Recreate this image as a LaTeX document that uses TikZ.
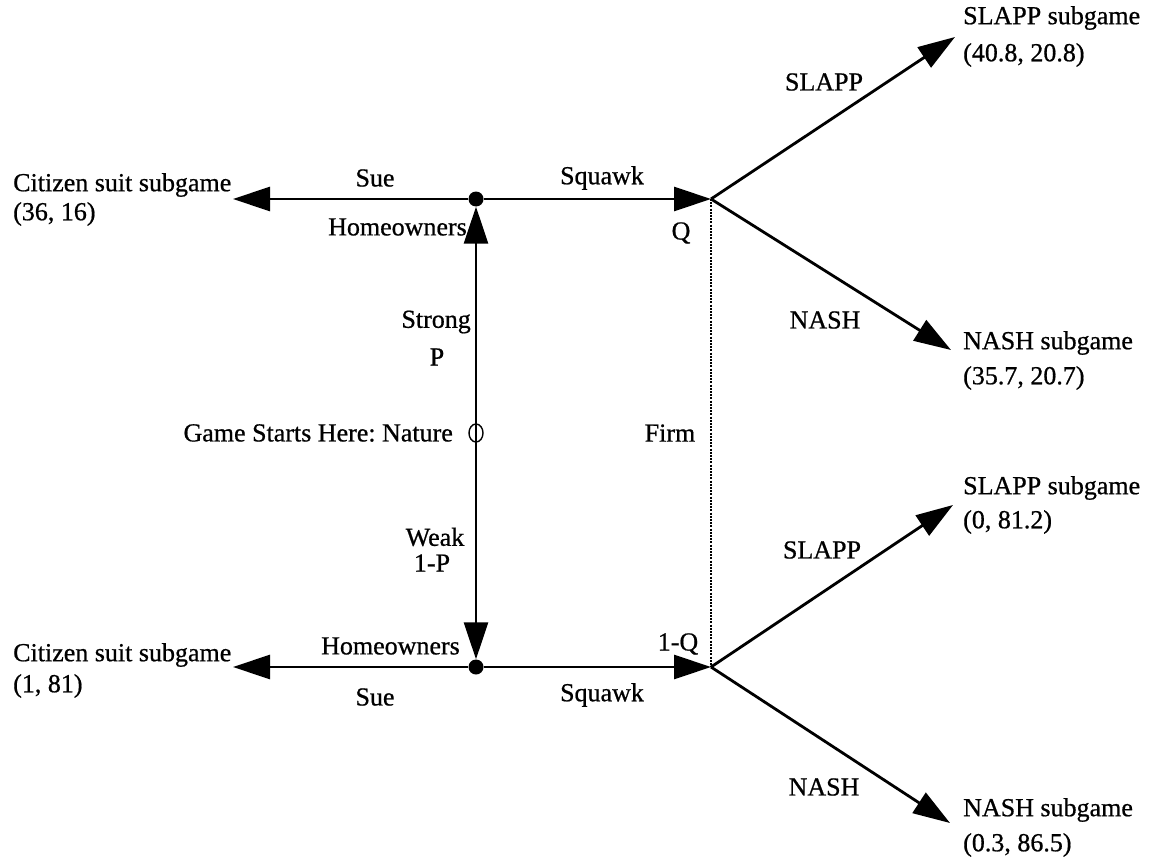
\documentclass[tikz,border=0pt]{standalone}
\usepackage{fontspec}
\setmainfont{Liberation Serif}[FakeBold=0.7]
\usetikzlibrary{arrows.meta,shapes.geometric}
\frenchspacing
\begin{document}
\begin{tikzpicture}[x=1pt,y=-1pt,
  lbl/.style={font=\fontsize{26}{30}\selectfont, inner sep=0pt},
  edge/.style={line width=2.8pt},
  arr/.style={edge, -{Triangle[length=37pt,width=24pt]}},
  hdot/.style={circle, fill=black, inner sep=0pt, minimum size=15pt},
  ndot/.style={ellipse, draw=black, line width=1.4pt, inner sep=0pt, minimum width=14pt, minimum height=18pt},
  info/.style={line width=1.7pt, dash pattern=on 2pt off 1.2pt}]
\useasboundingbox (0,0) rectangle (1151,864);
% decision nodes
\node[hdot] (h1) at (476,199) {};
\node[hdot] (h2) at (476,667) {};
\node[ndot] (nat) at (476,433) {};
\coordinate (q1) at (711,199);
\coordinate (q2) at (711,667);
\coordinate (c1) at (233,199);
\coordinate (c2) at (233,667);
\coordinate (t1) at (955,37);
\coordinate (t2) at (951,350);
\coordinate (t3) at (953,505);
\coordinate (t4) at (950,823);
% connectors
\draw[arr] (nat.center) -- (h1);
\draw[arr] (nat.center) -- (h2);
\draw[arr] (h1) -- (c1);
\draw[arr] (h1) -- (q1);
\draw[arr] (h2) -- (c2);
\draw[arr] (h2) -- (q2);
\draw[arr] (q1) -- (t1);
\draw[arr] (q1) -- (t2);
\draw[arr] (q2) -- (t3);
\draw[arr] (q2) -- (t4);
\draw[info] (q1) -- (q2);
% left payoffs
\node[lbl, anchor=west] (cs1) at (13,185) {Citizen suit subgame};
\node[lbl, anchor=west] (p1) at (13,214) {(36, 16)};
\node[lbl, anchor=west] (cs2) at (13,655) {Citizen suit subgame};
\node[lbl, anchor=west] (p2) at (13,686) {(1, 81)};
% edge labels
\node[lbl] (sue1) at (375,178) {Sue};
\node[lbl] (sq1) at (602,178) {Squawk};
\node[lbl, anchor=east] (ho1) at (467,227) {Homeowners};
\node[lbl] (ql) at (681,233) {Q};
\node[lbl, anchor=east] (strong) at (471,322) {Strong};
\node[lbl] (pl) at (437,357) {P};
\node[lbl, anchor=east] (start) at (453,433) {Game Starts Here: Nature};
\node[lbl] (firm) at (670,433) {Firm};
\node[lbl] (weak) at (435,537) {Weak};
\node[lbl] (onep) at (432,563) {1-P};
\node[lbl, anchor=east] (ho2) at (460,646) {Homeowners};
\node[lbl] (oneq) at (678,644) {1-Q};
\node[lbl] (sue2) at (375,697) {Sue};
\node[lbl] (sq2) at (602,695) {Squawk};
\node[lbl] (sl1) at (824,82) {SLAPP};
\node[lbl] (na1) at (825,320) {NASH};
\node[lbl] (sl2) at (822,550) {SLAPP};
\node[lbl] (na2) at (824,787) {NASH};
% right payoffs
\node[lbl, anchor=west] (r1a) at (963,18) {SLAPP subgame};
\node[lbl, anchor=west] (r1b) at (963,55) {(40.8, 20.8)};
\node[lbl, anchor=west] (r2a) at (963,343) {NASH subgame};
\node[lbl, anchor=west] (r2b) at (963,378) {(35.7, 20.7)};
\node[lbl, anchor=west] (r3a) at (963,488) {SLAPP subgame};
\node[lbl, anchor=west] (r3b) at (963,522) {(0, 81.2)};
\node[lbl, anchor=west] (r4a) at (963,810) {NASH subgame};
\node[lbl, anchor=west] (r4b) at (963,845) {(0.3, 86.5)};
\end{tikzpicture}
\end{document}
